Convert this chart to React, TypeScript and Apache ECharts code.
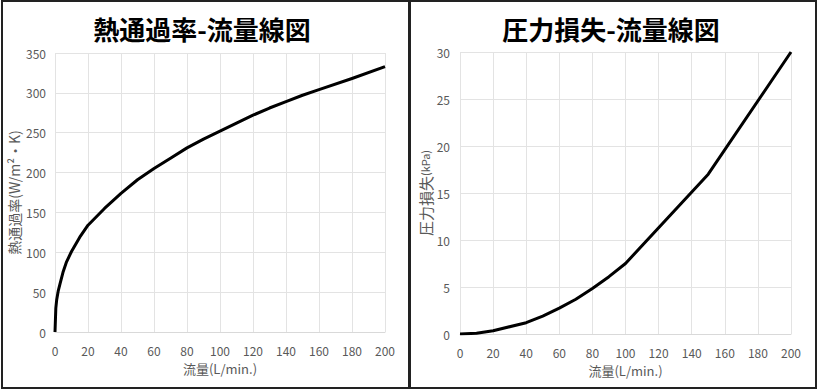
import React, { useEffect, useRef } from "react";
import * as echarts from "echarts";

const leftTitle = "熱通過率-流量線図";
const rightTitle = "圧力損失-流量線図";
const xName = "流量(L/min.)";
const leftYName = "熱通過率(W/m²・K)";
const rightYMain = "圧力損失";
const rightYUnit = "(kPa)";

const heatFlow = [0, 0.5, 1, 2, 3, 5, 7, 10, 15, 20, 30, 40, 50, 60, 70, 80, 90, 100, 110, 120, 130, 140, 150, 160, 180, 200];
const heatValue = [0, 30, 40, 52, 60, 76, 88, 101, 119, 134, 155, 174, 191, 205, 218, 231, 242, 252, 262, 272, 281, 289, 297, 304, 318, 333];

const lossFlow = [0, 10, 20, 40, 50, 60, 70, 80, 90, 100, 150, 200];
const lossValue = [0, 0.08, 0.35, 1.2, 1.9, 2.75, 3.7, 4.85, 6.1, 7.5, 17, 30];

const FONT = "'Noto Sans CJK JP', 'Noto Sans', sans-serif";
const LABEL = "#595959";
const GRIDC = "#e3e3e3";

function xAxisCfg(gridIndex: number) {
  return {
    type: "value" as const,
    gridIndex,
    min: 0,
    max: 200,
    interval: 20,
    name: xName,
    nameLocation: "middle" as const,
    nameGap: 30,
    nameTextStyle: { color: LABEL, fontSize: 13, fontFamily: FONT },
    axisLine: { show: true, lineStyle: { color: "#d9d9d9", width: 1 } },
    axisTick: { show: false },
    axisLabel: { color: LABEL, fontSize: 12, fontFamily: FONT, margin: 12 },
    splitLine: { show: true, lineStyle: { color: GRIDC, width: 1 } },
  };
}

export default function App() {
  const ref = useRef<HTMLDivElement>(null);
  useEffect(() => {
    if (!ref.current) return;
    const chart = echarts.init(ref.current, null, { renderer: "svg" });
    const heatData = heatFlow.map((f, i) => [f, heatValue[i]]);
    const lossData = lossFlow.map((f, i) => [f, lossValue[i]]);
    chart.setOption({
      animation: false,
      backgroundColor: "#ffffff",
      grid: [
        { left: 55, top: 53, width: 330, height: 279 },
        { left: 460, top: 52, width: 331, height: 282 },
      ],
      xAxis: [xAxisCfg(0), xAxisCfg(1)],
      yAxis: [
        {
          type: "value",
          gridIndex: 0,
          min: 0,
          max: 350,
          interval: 50,
          name: leftYName,
          nameLocation: "middle",
          nameGap: 34,
          nameTextStyle: { color: LABEL, fontSize: 14, fontFamily: FONT },
          axisLine: { show: false },
          axisTick: { show: false },
          axisLabel: { color: LABEL, fontSize: 12, fontFamily: FONT, margin: 9 },
          splitLine: { show: true, lineStyle: { color: GRIDC, width: 1 } },
        },
        {
          type: "value",
          gridIndex: 1,
          min: 0,
          max: 30,
          interval: 5,
          name: "{a|" + rightYMain + "}{b|" + rightYUnit + "}",
          nameLocation: "middle",
          nameGap: 26,
          nameTextStyle: {
            color: LABEL,
            fontFamily: FONT,
            rich: {
              a: { fontSize: 15, color: LABEL, fontFamily: FONT, verticalAlign: "middle" },
              b: { fontSize: 11, color: LABEL, fontFamily: FONT, verticalAlign: "middle" },
            },
          },
          axisLine: { show: false },
          axisTick: { show: false },
          axisLabel: { color: LABEL, fontSize: 12, fontFamily: FONT, margin: 10 },
          splitLine: { show: true, lineStyle: { color: GRIDC, width: 1 } },
        },
      ],
      series: [
        {
          type: "line",
          xAxisIndex: 0,
          yAxisIndex: 0,
          data: heatData,
          showSymbol: false,
          lineStyle: { color: "#000000", width: 3, join: "round" },
        },
        {
          type: "line",
          xAxisIndex: 1,
          yAxisIndex: 1,
          data: lossData,
          showSymbol: false,
          lineStyle: { color: "#000000", width: 3, join: "round" },
        },
      ],
      graphic: [
        {
          type: "rect",
          shape: { x: 2, y: 1, width: 407, height: 387 },
          style: { fill: "none", stroke: "#222222", lineWidth: 2 },
          silent: true,
        },
        {
          type: "rect",
          shape: { x: 410, y: 1, width: 406, height: 387 },
          style: { fill: "none", stroke: "#222222", lineWidth: 2 },
          silent: true,
        },
        {
          type: "text",
          x: 202,
          y: 28,
          style: {
            text: leftTitle,
            fill: "#000000",
            font: "bold 26px " + FONT,
            align: "center",
            verticalAlign: "middle",
          },
        },
        {
          type: "text",
          x: 611,
          y: 28,
          style: {
            text: rightTitle,
            fill: "#000000",
            font: "bold 26px " + FONT,
            align: "center",
            verticalAlign: "middle",
          },
        },
      ],
    });
    return () => chart.dispose();
  }, []);
  return (
    <div
      ref={ref}
      style={{ position: "fixed", left: 0, top: 0, width: 818, height: 391, background: "#fff" }}
    />
  );
}
